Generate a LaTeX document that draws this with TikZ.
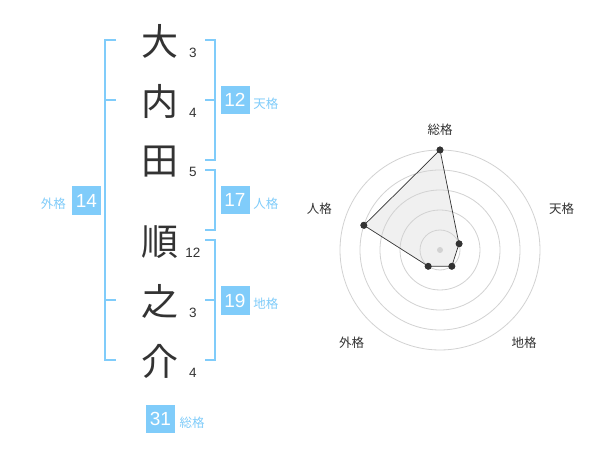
\documentclass[tikz,border=0pt]{standalone}
\usepackage{fontspec}
\setmainfont{Liberation Sans}
\newfontfamily\jp{Noto Sans CJK JP}
\definecolor{sky}{RGB}{128,204,250}
\definecolor{ink}{RGB}{51,51,51}
\definecolor{ringc}{RGB}{210,210,210}
\begin{document}
\begin{tikzpicture}[x=1pt,y=-1pt,
  kanji/.style={font=\jp\fontsize{37}{37}\selectfont, text=ink, inner sep=0pt},
  strokenum/.style={font=\fontsize{13.5}{14}\selectfont, text=ink, inner sep=0pt},
  numbox/.style={fill=sky, text=white, minimum width=29pt, minimum height=28.5pt, inner sep=0pt, font=\fontsize{19}{19}\selectfont},
  lbl/.style={text=sky, font=\jp\fontsize{12.5}{13}\selectfont, inner sep=0pt},
  bracket/.style={draw=sky, line width=2pt},
  ring/.style={draw=ringc, line width=0.8pt},
  axislbl/.style={text=ink, font=\jp\fontsize{12.5}{13}\selectfont, inner sep=0pt},
  pt/.style={circle, fill=ink, inner sep=0pt, minimum size=7pt}]
\useasboundingbox (0,0) rectangle (600,470);
\fill[white] (0,0) rectangle (600,470);
% kanji
\node[kanji] (k1) at (160,41.7) {大};
\node[kanji] (k2) at (160,101.7) {内};
\node[kanji] (k3) at (160,161.7) {田};
\node[kanji] (k4) at (160,241.7) {順};
\node[kanji] (k5) at (160,301.7) {之};
\node[kanji] (k6) at (160,361.7) {介};
% stroke numbers
\node[strokenum] (s1) at (193,52.5) {3};
\node[strokenum] (s2) at (193,113.3) {4};
\node[strokenum] (s3) at (193,172.3) {5};
\node[strokenum] (s4) at (193,252.5) {12};
\node[strokenum] (s5) at (193,313.3) {3};
\node[strokenum] (s6) at (193,373.3) {4};
% brackets
\draw[bracket] (116,40) -- (105,40) -- (105,360) -- (116,360);
\draw[bracket] (105,100) -- (116,100);
\draw[bracket] (105,300) -- (116,300);
\draw[bracket] (205,40) -- (215,40) -- (215,160) -- (205,160);
\draw[bracket] (205,100) -- (215,100);
\draw[bracket] (205,170) -- (215,170) -- (215,230) -- (205,230);
\draw[bracket] (205,240) -- (215,240) -- (215,360) -- (205,360);
\draw[bracket] (205,300) -- (215,300);
% boxes and labels
\node[numbox] (ten) at (235,100.2) {12};
\node[lbl] (tenl) at (265.8,103.5) {天格};
\node[numbox] (jin) at (235,200) {17};
\node[lbl] (jinl) at (265.8,203.3) {人格};
\node[numbox] (chi) at (235,300.5) {19};
\node[lbl] (chil) at (265.8,303.8) {地格};
\node[numbox] (gai) at (86.4,200.5) {14};
\node[lbl] (gail) at (53.3,204) {外格};
\node[numbox] (sou) at (160.5,419.2) {31};
\node[lbl] (soul) at (192,422.7) {総格};
% radar
\coordinate (c) at (440,250);
\node[pt] (p1) at (440,150) {};
\node[pt] (p2) at (459,243.8) {};
\node[pt] (p3) at (451.8,266.2) {};
\node[pt] (p4) at (428.2,266.2) {};
\node[pt] (p5) at (363.9,225.3) {};
\fill[black!6] (p1.center) -- (p2.center) -- (p3.center) -- (p4.center) -- (p5.center) -- cycle;
\foreach \r in {20,40,60,80,100} \draw[ring] (c) circle (\r pt);
\fill[ringc] (c) circle (3pt);
\draw[draw=ink, line width=0.7pt] (p1.center) -- (p2.center) -- (p3.center) -- (p4.center) -- (p5.center) -- cycle;
\foreach \p in {p1,p2,p3,p4,p5} \fill[ink] (\p) circle (3.4pt);
\node[axislbl] (a1) at (440,130) {総格};
\node[axislbl] (a2) at (561.7,208.3) {天格};
\node[axislbl] (a3) at (524,342.3) {地格};
\node[axislbl] (a4) at (351.7,342.3) {外格};
\node[axislbl] (a5) at (319.3,209) {人格};
\end{tikzpicture}
\end{document}
